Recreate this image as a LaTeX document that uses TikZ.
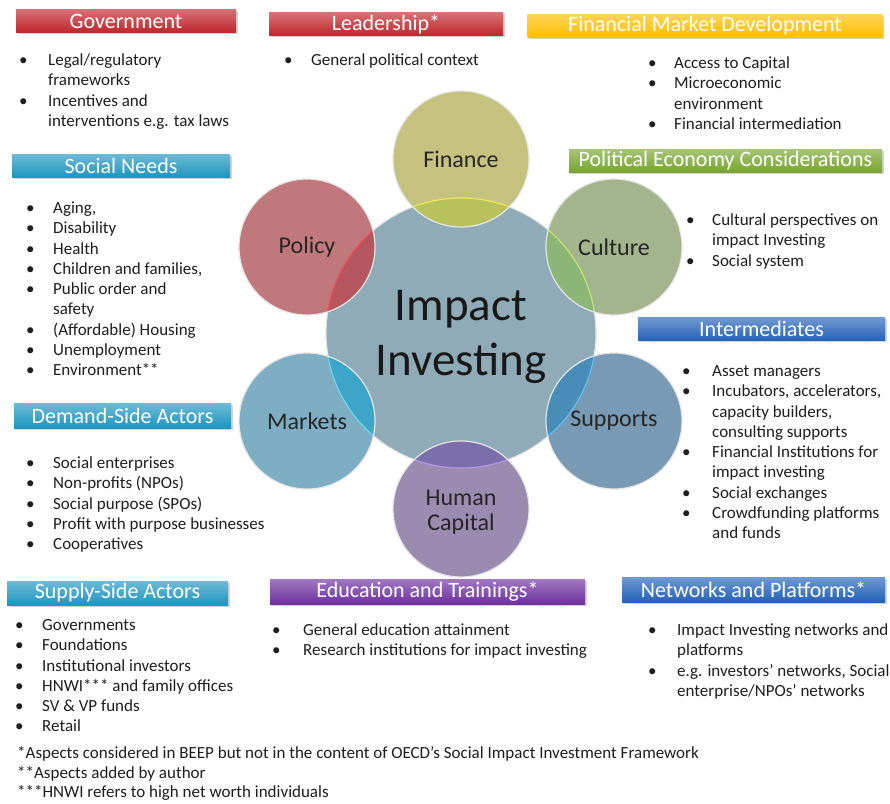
\documentclass[tikz,border=0pt]{standalone}
\usepackage{fontspec}
\setmainfont{Carlito}
\usetikzlibrary{shadows}

\definecolor{barred}{RGB}{192,38,44}
\definecolor{baryellow}{RGB}{255,190,0}
\definecolor{bargreen}{RGB}{118,165,44}
\definecolor{barteal}{RGB}{30,150,192}
\definecolor{barblue}{RGB}{36,98,184}
\definecolor{barpurple}{RGB}{110,48,158}
\definecolor{bodytext}{RGB}{30,30,30}

\definecolor{hubfill}{RGB}{143,171,184}
\definecolor{finfill}{RGB}{196,194,126}
\definecolor{finover}{RGB}{183,194,92}
\definecolor{finedge}{RGB}{240,230,90}
\definecolor{polfill}{RGB}{192,120,124}
\definecolor{polover}{RGB}{182,86,94}
\definecolor{poledge}{RGB}{240,80,90}
\definecolor{culfill}{RGB}{164,180,140}
\definecolor{culover}{RGB}{140,182,120}
\definecolor{culedge}{RGB}{190,230,110}
\definecolor{mktfill}{RGB}{126,174,196}
\definecolor{mktover}{RGB}{60,165,200}
\definecolor{mktedge}{RGB}{110,215,240}
\definecolor{supfill}{RGB}{120,154,180}
\definecolor{supover}{RGB}{72,140,184}
\definecolor{supedge}{RGB}{100,190,240}
\definecolor{humfill}{RGB}{156,139,176}
\definecolor{humover}{RGB}{124,110,170}
\definecolor{humedge}{RGB}{180,150,230}

\newcommand{\bodyfont}{\fontsize{17}{20.3}\selectfont}
\newcommand{\notefont}{\fontsize{17}{19.3}\selectfont}
\newcommand{\barfont}{\fontsize{22}{26}\selectfont}
\newcommand{\circfont}{\fontsize{24}{25}\selectfont}
\newlength{\bgap}
\newcommand{\bitem}{\strut\makebox[\bgap][l]{\textbullet}}
\newcommand{\bcont}{\strut\hspace*{\bgap}}

\begin{document}
\begin{tikzpicture}[x=1pt, y=-1pt]
	\tikzstyle{bar} = [inner sep=0pt, minimum height=23pt, text=white, font=\barfont, drop shadow={shadow xshift=1.5pt, shadow yshift=-1.5pt, opacity=0.35}]
	\tikzset{shadebar/.style={top color=#1!65!white, bottom color=#1}}
	\tikzset{list/.style={anchor=north west, align=left, inner sep=0pt, font=\bodyfont, text=bodytext, execute at begin node={\setlength{\bgap}{#1}}}}
	\tikzstyle{circtext} = [font=\circfont, text=black!85, align=center]
	\tikzstyle{ring} = [draw=white!90!black, line width=1.2pt]

	\useasboundingbox (0,0) rectangle (890,803);

	% circles
	\coordinate (ii) at (461,333);
	\coordinate (fin) at (461,159);
	\coordinate (pol) at (307,247);
	\coordinate (cul) at (614,247);
	\coordinate (mkt) at (307,421);
	\coordinate (sup) at (614,421);
	\coordinate (hum) at (461,509);

	\fill[hubfill] (ii) circle (135pt);
	\draw[ring] (ii) circle (135pt);
	\foreach \p/\c in {fin/finfill, pol/polfill, cul/culfill, mkt/mktfill, sup/supfill, hum/humfill}
		\fill[\c] (\p) circle (68pt);
	\begin{scope}
		\clip (ii) circle (135pt);
		\foreach \p/\c in {fin/finover, pol/polover, cul/culover, mkt/mktover, sup/supover, hum/humover}
			\fill[\c] (\p) circle (68pt);
	\end{scope}
	\foreach \p/\c in {fin/finedge, pol/poledge, cul/culedge, mkt/mktedge, sup/supedge, hum/humedge}{
		\begin{scope}
			\clip (\p) circle (68pt);
			\draw[\c, line width=1.2pt] (ii) circle (135pt);
		\end{scope}
	}
	\foreach \p in {fin, pol, cul, mkt, sup, hum}
		\draw[ring] (\p) circle (68pt);

	\node[font=\fontsize{47}{55}\selectfont, text=black!90, align=center] (impact) at (461,337) {Impact\\Investing};
	\node[circtext] (finance) at (fin) {Finance};
	\node[circtext] (policy) at (pol) {Policy};
	\node[circtext] (culture) at (cul) {Culture};
	\node[circtext] (markets) at (mkt) {Markets};
	\node[circtext] (supports) at (sup) {Supports};
	\node[circtext] (humancap) at (461,512) {Human\\Capital};

	% header bars
	\node[bar, shadebar=barred, minimum width=220pt] (gov) at (126,21) {Government};
	\node[bar, shadebar=barred, minimum width=234pt] (lead) at (386,24) {Leadership*};
	\node[bar, shadebar=baryellow, minimum width=355pt] (fmd) at (705,25.5) {Financial Market Development};
	\node[bar, shadebar=bargreen, minimum width=313pt] (pec) at (725.5,161) {Political Economy Considerations};
	\node[bar, shadebar=barteal, minimum width=218pt] (soc) at (121,165.5) {Social Needs};
	\node[bar, shadebar=barblue, minimum width=247pt] (inter) at (761.5,329) {Intermediates};
	\node[bar, shadebar=barteal, minimum width=217pt, minimum height=25pt] (dem) at (122.5,415.5) {Demand-Side Actors};
	\node[bar, shadebar=barteal, minimum width=221pt, minimum height=24pt] (supply) at (117.5,593) {Supply-Side Actors};
	\node[bar, shadebar=barpurple, minimum width=315pt, minimum height=25pt] (edu) at (427.5,591.5) {Education and Trainings*};
	\node[bar, shadebar=barblue, minimum width=263pt, minimum height=25pt] (net) at (753.5,589.5) {Networks and Platforms*};

	% bullet lists
	\node[list=29pt] (govlist) at (19,51) {\bitem Legal/regulatory\\ \bcont frameworks\\ \bitem Incentives and\\ \bcont interventions e.g. tax laws};
	\node[list=27pt] (leadlist) at (284,51) {\bitem General political context};
	\node[list=26pt] (fmdlist) at (648,54) {\bitem Access to Capital\\ \bitem Microeconomic\\ \bcont environment\\ \bitem Financial intermediation};
	\node[list=26pt] (peclist) at (686,211) {\bitem Cultural perspectives on\\ \bcont impact Investing\\ \bitem Social system};
	\node[list=27pt] (soclist) at (26,199) {\bitem Aging,\\ \bitem Disability\\ \bitem Health\\ \bitem Children and families,\\ \bitem Public order and\\ \bcont safety\\ \bitem (Affordable) Housing\\ \bitem Unemployment\\ \bitem Environment**};
	\node[list=30pt] (interlist) at (682,362) {\bitem Asset managers\\ \bitem Incubators, accelerators,\\ \bcont capacity builders,\\ \bcont consulting supports\\ \bitem Financial Institutions for\\ \bcont impact investing\\ \bitem Social exchanges\\ \bitem Crowdfunding platforms\\ \bcont and funds};
	\node[list=27pt] (demlist) at (26,454) {\bitem Social enterprises\\ \bitem Non-profits (NPOs)\\ \bitem Social purpose (SPOs)\\ \bitem Profit with purpose businesses\\ \bitem Cooperatives};
	\node[list=27pt] (supplylist) at (15,616) {\bitem Governments\\ \bitem Foundations\\ \bitem Institutional investors\\ \bitem HNWI*** and family offices\\ \bitem SV \& VP funds\\ \bitem Retail};
	\node[list=31pt] (edulist) at (272,621) {\bitem General education attainment\\ \bitem Research institutions for impact investing};
	\node[list=29pt] (netlist) at (648,621) {\bitem Impact Investing networks and\\ \bcont platforms\\ \bitem e.g. investors’ networks, Social\\ \bcont enterprise/NPOs’ networks};

	% footnotes
	\node[list=0pt, font=\notefont] (notes) at (17,745) {\strut*Aspects considered in BEEP but not in the content of OECD’s Social Impact Investment Framework\\ \strut**Aspects added by author\\ \strut***HNWI refers to high net worth individuals};
\end{tikzpicture}
\end{document}
